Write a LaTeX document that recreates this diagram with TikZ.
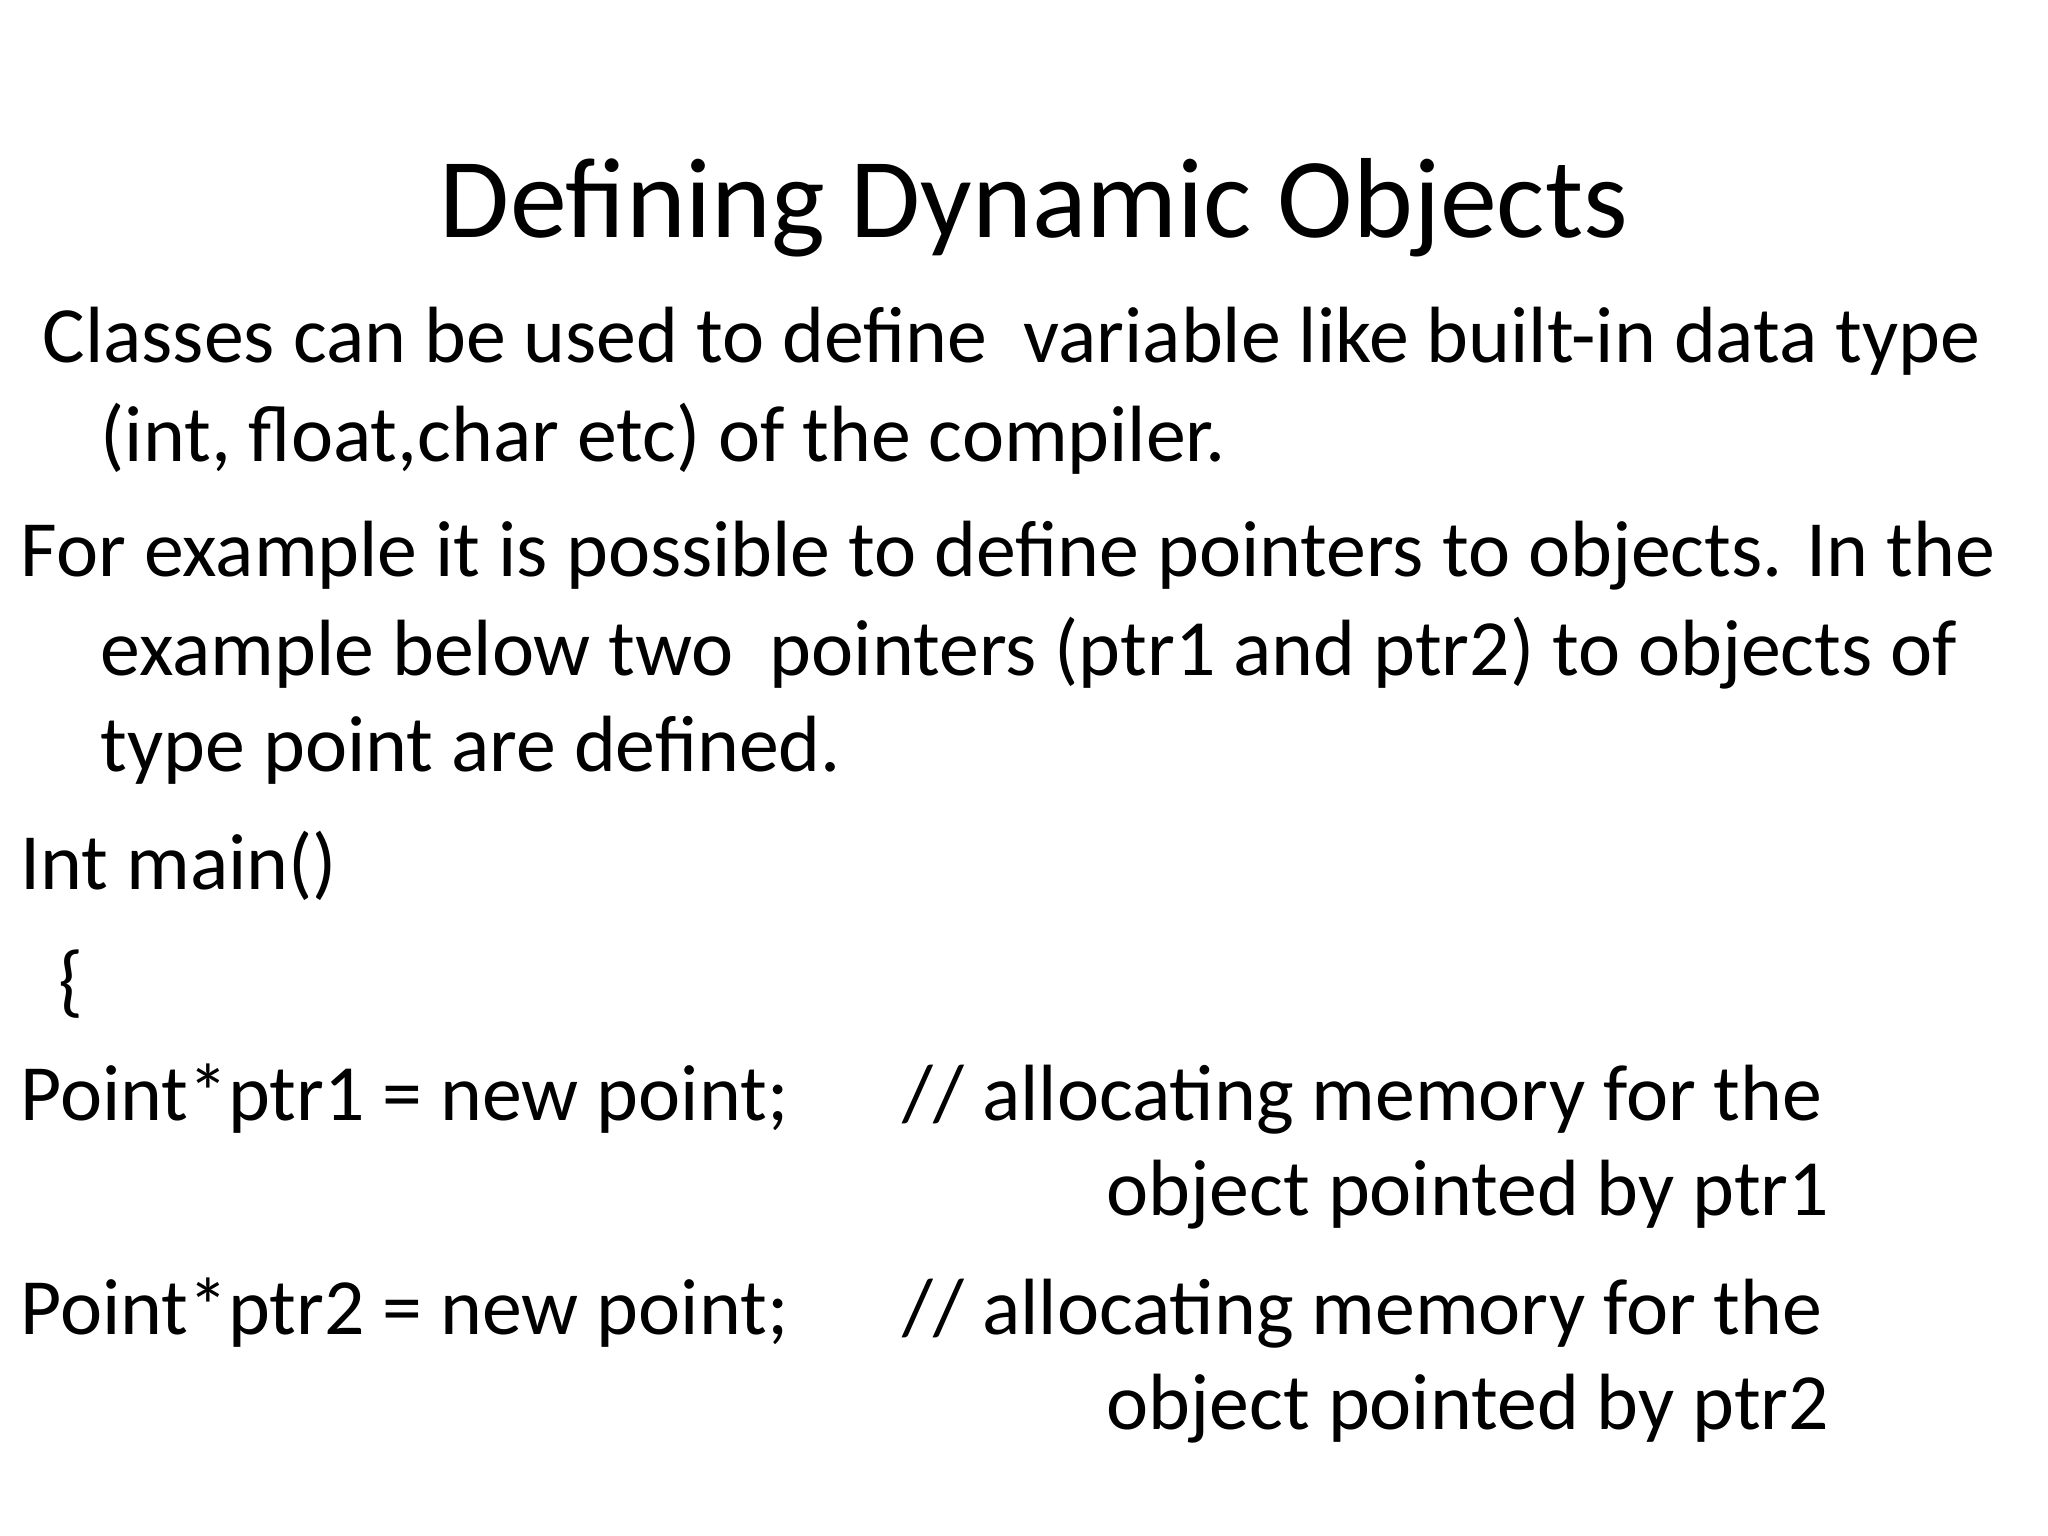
\documentclass[tikz,border=0pt]{standalone}
\usepackage{fontspec}
\setmainfont{Carlito}
\begin{document}
\begin{tikzpicture}[x=1cm,y=-1cm,
  body/.style={anchor=base west,inner sep=0pt,font=\fontsize{22.7}{27}\selectfont},
  bodyr/.style={anchor=base east,inner sep=0pt,font=\fontsize{22.7}{27}\selectfont}]
\useasboundingbox (0,0) rectangle (20.48,15.36);
\node[anchor=base,inner sep=0pt,font=\fontsize{32.4}{40}\selectfont] (title) at (10.34,2.38) {Defining Dynamic Objects};
\node[body] (l1) at (0.42,3.63) {Classes can be used to define\ \ variable like built-in data type};
\node[body] (l2) at (1.00,4.62) {(int, float,char etc) of the compiler.};
\node[body] (l3) at (0.20,5.77) {For example it is possible to define pointers to objects. In the};
\node[body] (l4) at (1.00,6.76) {example below two\ \ pointers (ptr1 and ptr2) to objects of};
\node[body] (l5) at (1.00,7.71) {type point are defined.};
\node[body] (l6) at (0.20,8.89) {Int main()};
\node[body] (l7) at (0.58,10.07) {\{};
\node[body] (p1) at (0.20,11.20) {Point*ptr1 = new point;};
\node[body] (c1) at (9.02,11.20) {// allocating memory for the};
\node[bodyr] (o1) at (18.30,12.15) {object pointed by ptr1};
\node[body] (p2) at (0.20,13.34) {Point*ptr2 = new point;};
\node[body] (c2) at (9.02,13.34) {// allocating memory for the};
\node[bodyr] (o2) at (18.30,14.29) {object pointed by ptr2};
\end{tikzpicture}
\end{document}
